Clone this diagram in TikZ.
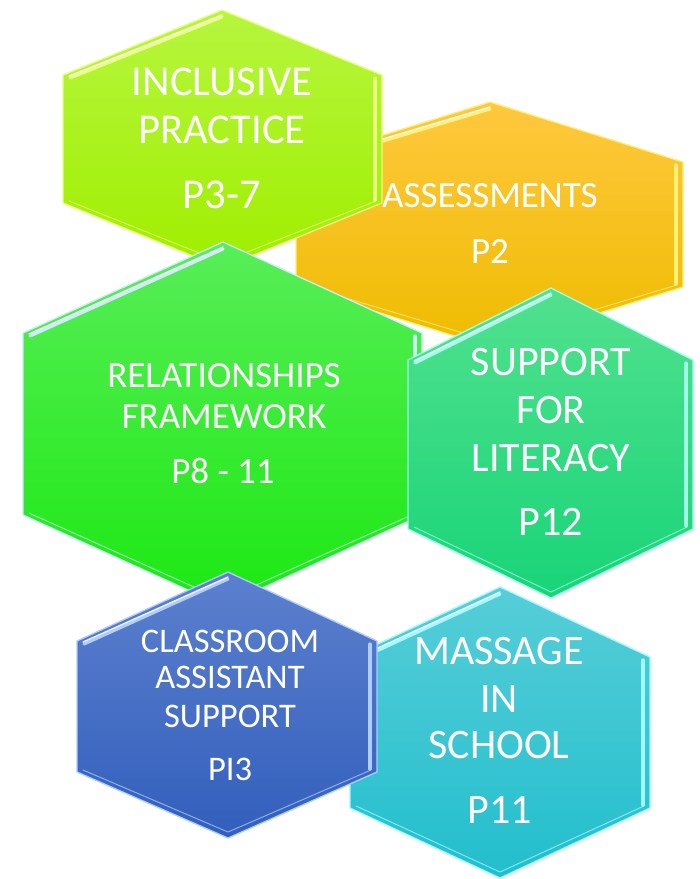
\documentclass[tikz,border=0pt]{standalone}
\usepackage{fontspec}
\setmainfont{Carlito}
\usetikzlibrary{calc}
\definecolor{limeT}{RGB}{182,246,62}
\definecolor{limeB}{RGB}{160,238,0}
\definecolor{limeL}{RGB}{235,255,130}
\definecolor{orangeT}{RGB}{255,200,62}
\definecolor{orangeB}{RGB}{238,188,0}
\definecolor{orangeL}{RGB}{255,240,120}
\definecolor{greenT}{RGB}{88,238,88}
\definecolor{greenB}{RGB}{28,232,18}
\definecolor{greenL}{RGB}{205,235,255}
\definecolor{tealT}{RGB}{82,225,142}
\definecolor{tealB}{RGB}{24,212,120}
\definecolor{tealL}{RGB}{160,255,232}
\definecolor{blueT}{RGB}{92,128,206}
\definecolor{blueB}{RGB}{50,95,188}
\definecolor{blueL}{RGB}{175,205,255}
\definecolor{cyanT}{RGB}{86,206,216}
\definecolor{cyanB}{RGB}{34,190,205}
\definecolor{cyanL}{RGB}{160,250,255}
\newcommand{\fsz}[1]{\fontsize{#1}{#1}\selectfont}
% #1 cx, #2 top, #3 upper side y, #4 lower side y, #5 bottom, #6 left, #7 right, #8 colour prefix
\newcommand{\hexcell}[8]{%
  \shade[top color=#8T, bottom color=#8B, draw=#8L, line width=1.3pt, line join=round]
    (#1,#2) -- (#7,#3) -- (#7,#4) -- (#1,#5) -- (#6,#4) -- (#6,#3) -- cycle;
  \draw[#8L, line width=3.2pt, line cap=round] ($(#6,#3)+(7,3)$) -- ($(#1,#2)+(0,7)$);
  \draw[white, line width=1.4pt, line cap=round, opacity=.9] ($(#6,#3)+(6,1)$) -- ($(#1,#2)+(0,5)$);
  \draw[#8L, line width=3.2pt, line cap=round] ($(#7,#3)+(-7,3)$) -- ($(#7,#4)+(-7,-3)$);
  \draw[#8L, line width=1pt, opacity=.7] ($(#6,#4)+(6,-2)$) -- ($(#1,#5)+(0,-6)$) -- ($(#7,#4)+(-6,-2)$);
}
\tikzset{lbl/.style={text=white, anchor=base, inner sep=0pt}}
\begin{document}
\begin{tikzpicture}[x=1pt,y=-1pt]
\useasboundingbox (0,0) rectangle (700,879);
\fill[white] (0,0) rectangle (700,879);
% stacking: orange, lime, green, cyan, teal, blue
\hexcell{490}{102}{162}{287}{347}{296}{683}{orange}
\hexcell{222}{10}{75}{203}{268}{63}{382}{lime}
\hexcell{223}{242}{333}{515}{606}{23}{422}{green}
\hexcell{500}{587}{657}{808}{878}{350}{650}{cyan}
\hexcell{551}{288}{360}{529}{598}{408}{693}{teal}
\hexcell{228}{572}{641}{772}{838}{77}{377}{blue}
% texts
\node[lbl, font=\fsz{42.5}] (t1a) at (222,95) {INCLUSIVE};
\node[lbl, font=\fsz{42.5}] (t1b) at (222,143) {PRACTICE};
\node[lbl, font=\fsz{42.5}] (t1c) at (222,208) {P3-7};
\node[lbl, font=\fsz{37}] (t2a) at (490,207) {ASSESSMENTS};
\node[lbl, font=\fsz{37}] (t2b) at (490,263) {P2};
\node[lbl, font=\fsz{37}] (t3a) at (224,387) {RELATIONSHIPS};
\node[lbl, font=\fsz{37}] (t3b) at (224,428) {FRAMEWORK};
\node[lbl, font=\fsz{37}] (t3c) at (223,483) {P8 - 11};
\node[lbl, font=\fsz{42}] (t4a) at (551,375) {SUPPORT};
\node[lbl, font=\fsz{42}] (t4b) at (551,423) {FOR};
\node[lbl, font=\fsz{42}] (t4c) at (551,471) {LITERACY};
\node[lbl, font=\fsz{42}] (t4d) at (551,535) {P12};
\node[lbl, font=\fsz{34.5}] (t5a) at (230,652) {CLASSROOM};
\node[lbl, font=\fsz{34.5}] (t5b) at (230,688) {ASSISTANT};
\node[lbl, font=\fsz{34.5}] (t5c) at (230,727) {SUPPORT};
\node[lbl, font=\fsz{34.5}] (t5d) at (230,780) {PI3};
\node[lbl, font=\fsz{42}] (t6a) at (499,664) {MASSAGE};
\node[lbl, font=\fsz{42}] (t6b) at (499,712) {IN};
\node[lbl, font=\fsz{42}] (t6c) at (499,758) {SCHOOL};
\node[lbl, font=\fsz{42}] (t6d) at (500,823) {P11};
\end{tikzpicture}
\end{document}
